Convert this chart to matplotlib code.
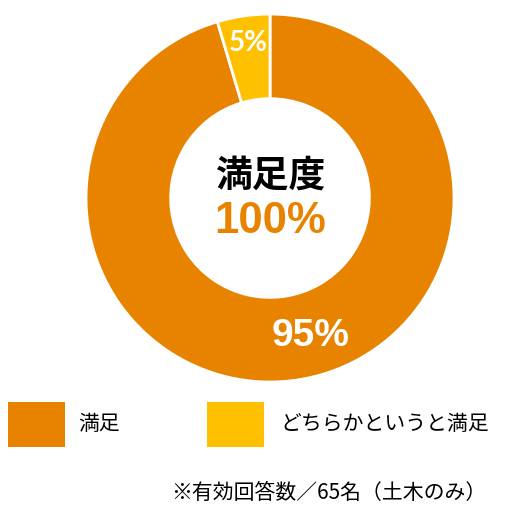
import matplotlib
matplotlib.use("Agg")
from matplotlib import pyplot as plt
from matplotlib.patches import Rectangle

plt.rcParams['font.family'] = ['Noto Sans CJK JP', 'DejaVu Sans']

# datos (65 respuestas)
categorias = ["満足", "どちらかというと満足"]
valores = [62, 3]
colores = ["#E88300", "#FFC000"]
etiquetas = ["95%", "5%"]
titulo_centro = "満足度"
total_centro = "100%"
nota = "※有効回答数／65名（土木のみ）"

fig = plt.figure(figsize=(5.32, 5.07), dpi=100)

# donut
ax = fig.add_axes([0.1617, 0.2465, 0.6917, 0.7258])
wedges, _ = ax.pie(valores, colors=colores, startangle=90, counterclock=False,
                   wedgeprops=dict(width=0.46, edgecolor="white", linewidth=2))
ax.set_aspect("equal")
ax.set_xlim(-1, 1)
ax.set_ylim(-1, 1)
ax.axis("off")

# etiquetas de porcentaje
ax.text(0.22, -0.75, etiquetas[0], color="white", fontsize=28, fontweight="bold",
        family="Liberation Sans", ha="center", va="center")
ax.text(-0.12, 0.84, etiquetas[1], color="white", fontsize=20, fontweight="bold",
        family="Lato", ha="center", va="center")

# texto central
ax.text(0.0, 0.12, titulo_centro, color="black", fontsize=26.5, fontweight="bold",
        ha="center", va="center")
ax.text(0.0, -0.13, total_centro, color=colores[0], fontsize=31.5, fontweight="bold",
        family="Liberation Sans", ha="center", va="center")

# leyenda
W, H = 532, 507
posiciones = [(8, 78), (207, 280)]
for (x0, xt), cat, col in zip(posiciones, categorias, colores):
    fig.patches.append(Rectangle((x0 / W, 1 - 447 / H), 57 / W, 45 / H,
                                 transform=fig.transFigure, facecolor=col, edgecolor="none"))
    fig.text(xt / W, 1 - 424 / H, cat, fontsize=15, ha="left", va="center")

# nota
fig.text(486 / W, 1 - 493 / H, nota, fontsize=15, ha="right", va="center")

plt.savefig("out.png", dpi=100)
